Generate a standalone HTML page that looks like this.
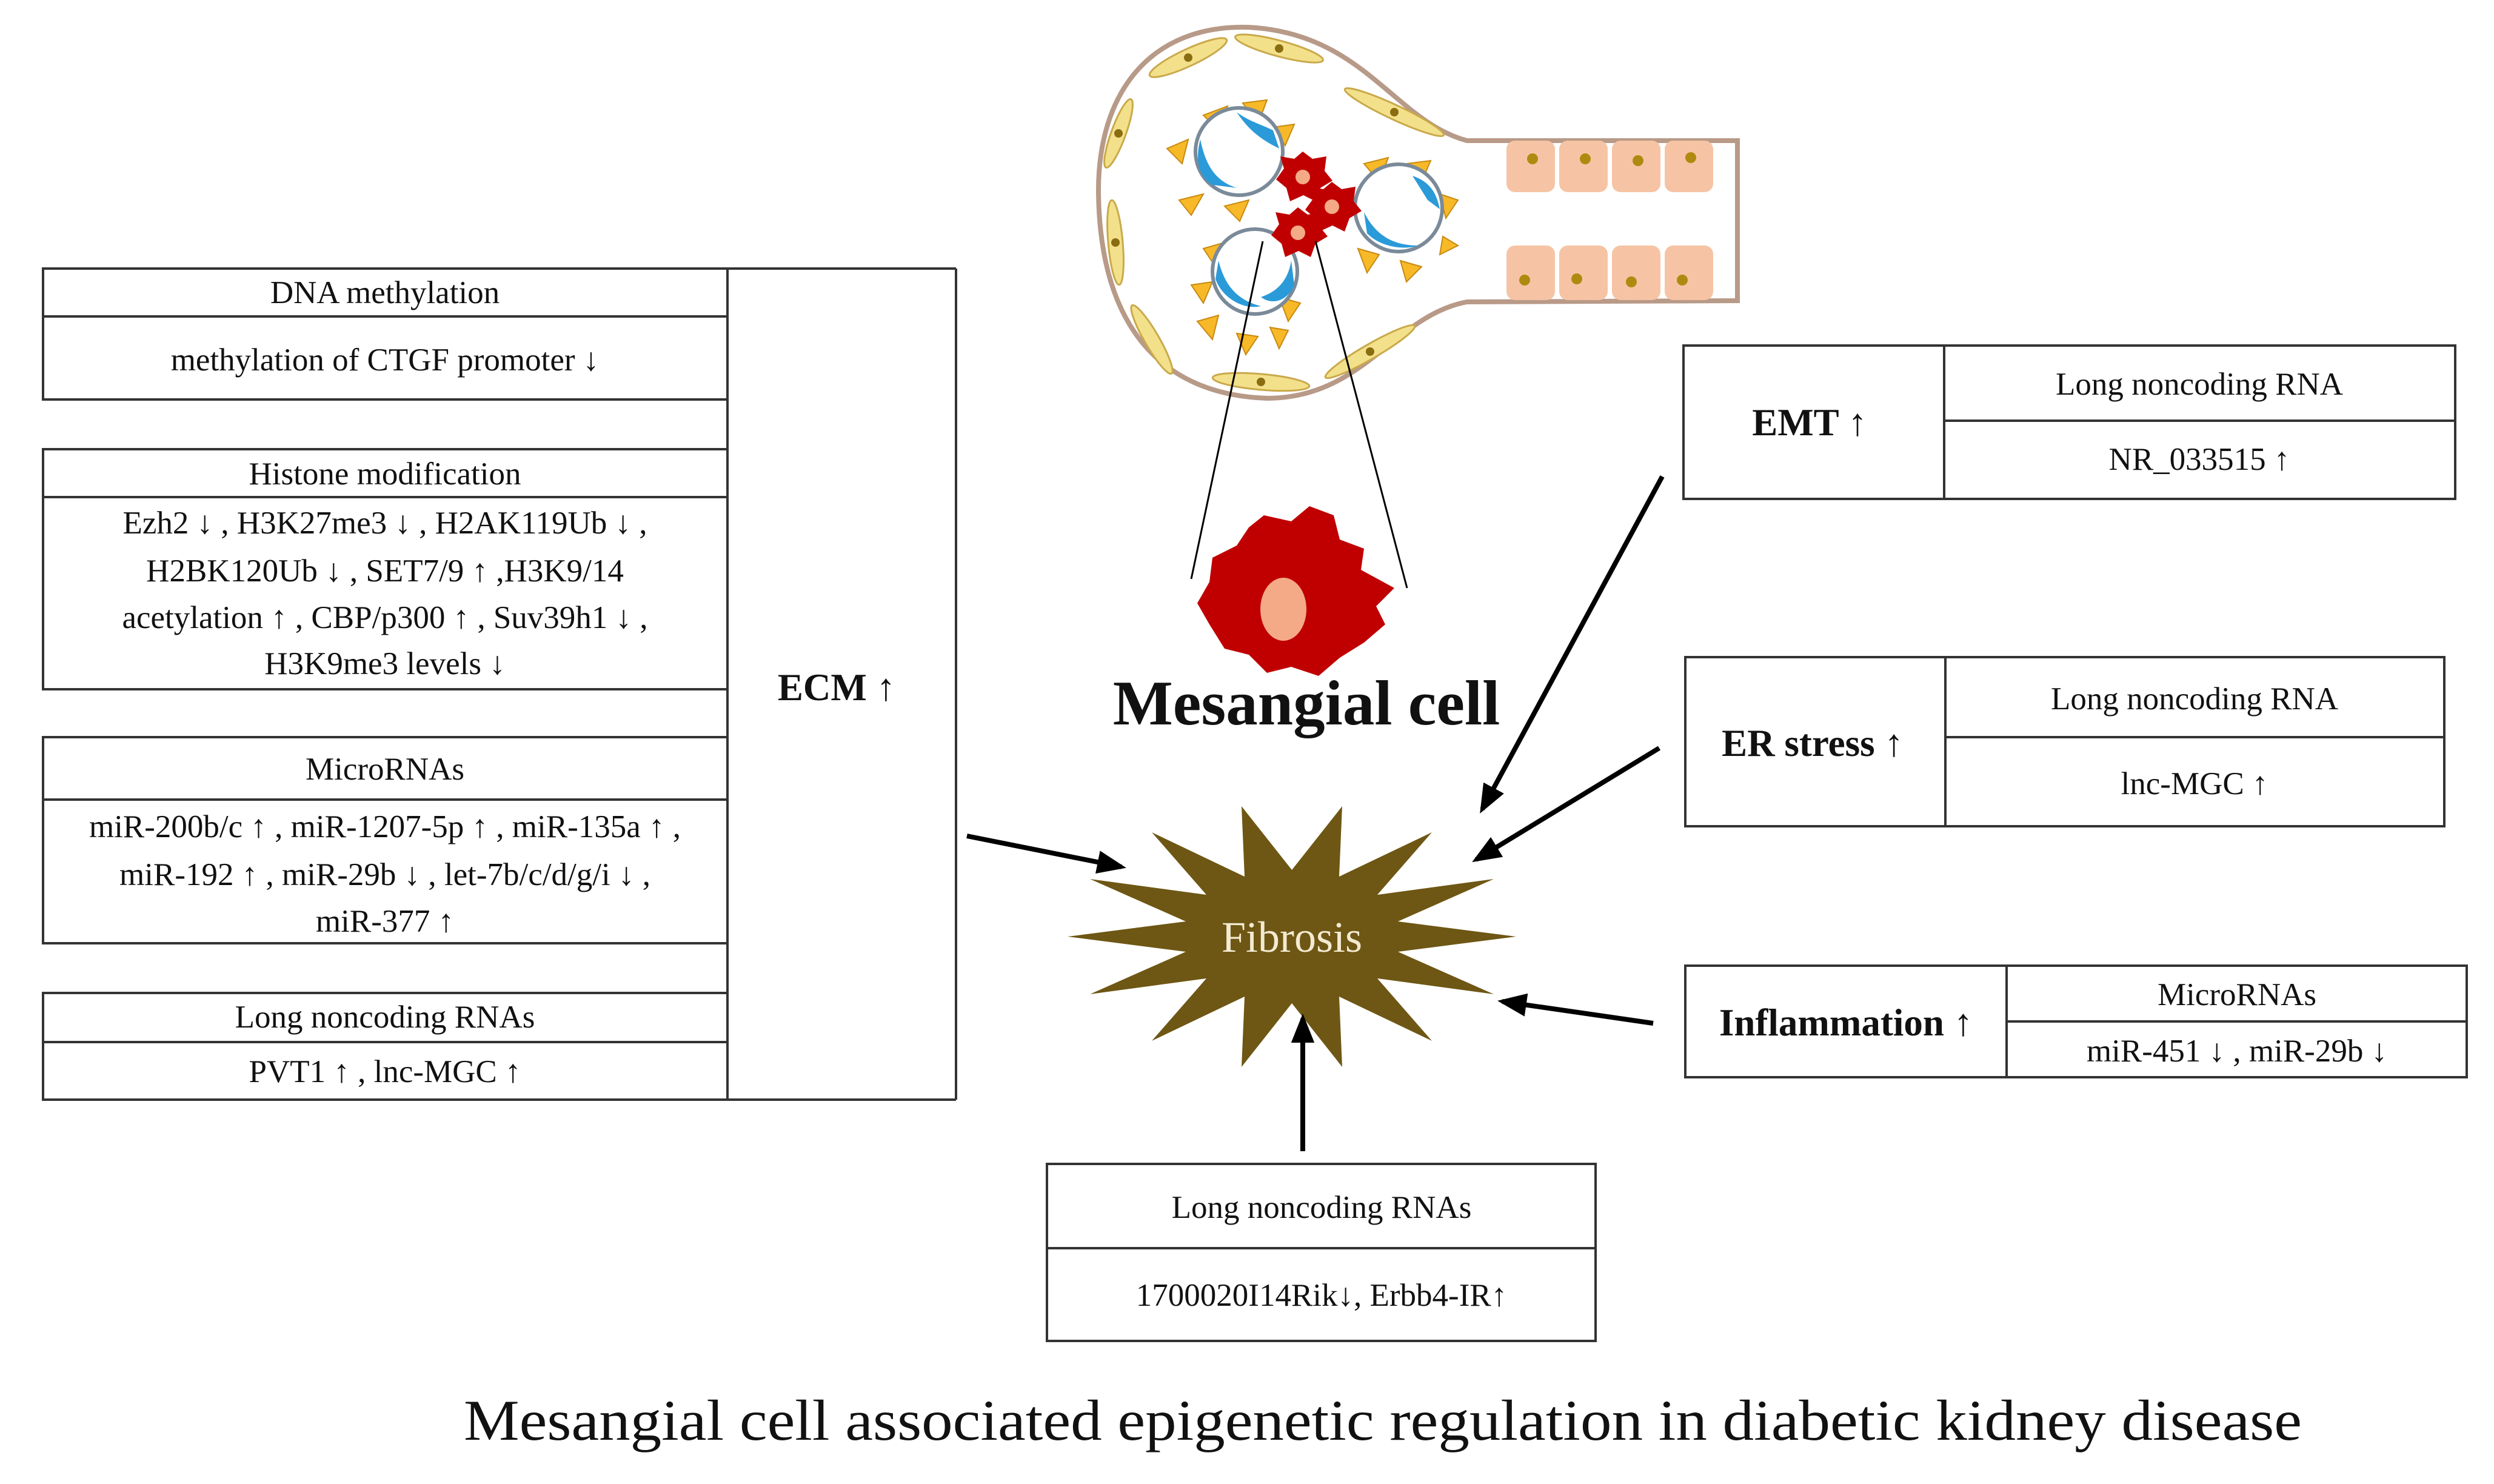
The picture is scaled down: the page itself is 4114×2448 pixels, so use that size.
<!DOCTYPE html>
<html><head><meta charset="utf-8"><style>
html,body{margin:0;padding:0;background:#fff}
svg{display:block}
text{font-family:"Liberation Serif",serif;fill:#111}
</style></head><body>
<svg width="4114" height="2448" viewBox="0 0 4114 2448" xmlns="http://www.w3.org/2000/svg">
<defs>
<marker id="ah" markerWidth="6" markerHeight="6" refX="5" refY="3" orient="auto" markerUnits="strokeWidth">
<path d="M0,0.6 L6,3 L0,5.4 Z" fill="#000"/>
</marker>
</defs>
<rect width="4114" height="2448" fill="#fff"/>

<!-- Glomerulus -->
<path d="M2866,232 L2420,232 C2300,200 2250,55 2060,45 C1900,40 1810,150 1812,320 C1815,520 1900,650 2090,657 C2250,657 2300,520 2420,498 L2866,496 Z" fill="#fff" stroke="#b89a88" stroke-width="8"/>
<g fill="#f3e08a" stroke="#c9a94a" stroke-width="3">
<ellipse cx="1960" cy="95" rx="70" ry="14" transform="rotate(-25 1960 95)"/>
<ellipse cx="2110" cy="80" rx="75" ry="13" transform="rotate(15 2110 80)"/>
<ellipse cx="1845" cy="220" rx="60" ry="12" transform="rotate(-70 1845 220)"/>
<ellipse cx="1840" cy="400" rx="70" ry="12" transform="rotate(85 1840 400)"/>
<ellipse cx="1900" cy="560" rx="65" ry="12" transform="rotate(60 1900 560)"/>
<ellipse cx="2080" cy="630" rx="80" ry="13" transform="rotate(5 2080 630)"/>
<ellipse cx="2260" cy="580" rx="85" ry="12" transform="rotate(-30 2260 580)"/>
<ellipse cx="2300" cy="185" rx="90" ry="12" transform="rotate(25 2300 185)"/>
</g>
<g fill="#8a6d10">
<circle cx="1960" cy="95" r="7"/><circle cx="2110" cy="80" r="7"/><circle cx="1845" cy="220" r="7"/><circle cx="1840" cy="400" r="7"/><circle cx="2080" cy="630" r="7"/><circle cx="2260" cy="580" r="7"/><circle cx="2300" cy="185" r="7"/>
</g>
<g fill="#f7b928" stroke="#c88a10" stroke-width="2">
<polygon points="1985,190 2025,175 2010,215"/><polygon points="2050,170 2090,165 2075,205"/>
<polygon points="1925,245 1960,230 1950,270"/><polygon points="1945,330 1985,320 1965,355"/>
<polygon points="2100,210 2135,205 2120,240"/><polygon points="2020,340 2060,330 2045,365"/>
<polygon points="2250,270 2290,260 2275,300"/><polygon points="2320,270 2360,265 2345,300"/>
<polygon points="2375,320 2405,330 2385,360"/><polygon points="2380,390 2405,405 2375,420"/>
<polygon points="2240,410 2275,420 2255,450"/><polygon points="2310,430 2345,440 2320,465"/>
<polygon points="1985,410 2020,400 2005,440"/><polygon points="1965,470 2000,465 1985,500"/>
<polygon points="1975,530 2010,520 2000,560"/><polygon points="2110,490 2145,500 2125,530"/>
<polygon points="2040,550 2075,555 2055,585"/><polygon points="2095,540 2125,545 2110,575"/>
</g>
<g stroke="#7a8a99" stroke-width="6" fill="#fff">
<circle cx="2044" cy="250" r="72"/><circle cx="2307" cy="343" r="72"/><circle cx="2070" cy="448" r="70"/>
</g>
<g fill="#2b9ad8">
<path d="M1980,230 C1990,280 2010,300 2040,310 L2000,305 C1975,290 1972,260 1980,230Z"/>
<path d="M2040,185 C2060,200 2080,205 2100,215 L2110,245 C2080,230 2060,215 2040,185Z"/>
<path d="M2250,350 C2270,390 2300,405 2340,405 C2320,412 2280,410 2255,385Z"/>
<path d="M2330,290 C2360,300 2370,320 2375,345 L2355,330Z"/>
<path d="M2010,430 C2020,470 2040,495 2080,505 C2050,512 2015,490 2005,460Z"/>
<path d="M2080,490 C2110,480 2125,460 2130,430 L2135,470 C2125,495 2100,505 2080,490Z"/>
</g>
<g fill="#c00000">
<polygon points="2149,250 2165,262 2188,258 2185,282 2198,298 2178,310 2170,332 2150,322 2128,332 2122,310 2105,296 2118,278 2112,258 2135,262"/>
<polygon points="2197,300 2213,312 2236,308 2233,332 2246,348 2226,360 2218,382 2198,372 2176,382 2170,360 2153,346 2166,328 2160,308 2183,312"/>
<polygon points="2141,342 2157,354 2180,350 2177,374 2190,390 2170,402 2162,424 2142,414 2120,424 2114,402 2097,388 2110,370 2104,350 2127,354"/>
</g>
<g fill="#f4a987"><circle cx="2149" cy="292" r="12"/><circle cx="2197" cy="341" r="12"/><circle cx="2141" cy="384" r="12"/></g>
<g fill="#f6c4a4">
<rect x="2485" y="232" width="80" height="85" rx="14"/><rect x="2572" y="232" width="80" height="85" rx="14"/><rect x="2659" y="232" width="80" height="85" rx="14"/><rect x="2746" y="232" width="80" height="85" rx="14"/>
<rect x="2485" y="405" width="80" height="90" rx="14"/><rect x="2572" y="405" width="80" height="90" rx="14"/><rect x="2659" y="405" width="80" height="90" rx="14"/><rect x="2746" y="405" width="80" height="90" rx="14"/>
</g>
<g fill="#b08a10">
<circle cx="2528" cy="262" r="9"/><circle cx="2615" cy="262" r="9"/><circle cx="2702" cy="265" r="9"/><circle cx="2789" cy="260" r="9"/>
<circle cx="2515" cy="462" r="9"/><circle cx="2601" cy="460" r="9"/><circle cx="2691" cy="465" r="9"/><circle cx="2775" cy="462" r="9"/>
</g>

<!-- zoom lines -->
<line x1="2083" y1="398" x2="1965" y2="955" stroke="#000" stroke-width="3"/>
<line x1="2170" y1="398" x2="2321" y2="970" stroke="#000" stroke-width="3"/>

<!-- big mesangial cell -->
<polygon points="2085,850 2130,860 2160,835 2200,850 2210,890 2250,905 2245,940 2300,970 2270,1000 2285,1030 2250,1060 2210,1085 2175,1115 2130,1100 2090,1110 2060,1080 2020,1070 1995,1030 1975,995 1995,960 2000,920 2040,900 2060,870" fill="#c00000"/>
<ellipse cx="2117" cy="1005" rx="38" ry="52" fill="#f4a987"/>
<text x="2155" y="1195" font-size="105" font-weight="bold" text-anchor="middle">Mesangial cell</text>

<!-- Left big box -->
<g stroke="#333" stroke-width="4" fill="none">
<line x1="71" y1="443" x2="1577" y2="443"/>
<line x1="71" y1="1814" x2="1577" y2="1814"/>
<line x1="1577" y1="443" x2="1577" y2="1814"/>
<line x1="1200" y1="443" x2="1200" y2="1814"/>
<rect x="71" y="443" width="1129" height="216"/><line x1="71" y1="522" x2="1200" y2="522"/>
<rect x="71" y="741" width="1129" height="396"/><line x1="71" y1="820" x2="1200" y2="820"/>
<rect x="71" y="1216" width="1129" height="340"/><line x1="71" y1="1319" x2="1200" y2="1319"/>
<rect x="71" y="1638" width="1129" height="176"/><line x1="71" y1="1719" x2="1200" y2="1719"/>
</g>
<g font-size="53" text-anchor="middle">
<text x="635" y="500">DNA methylation</text>
<text x="635" y="611">methylation  of CTGF promoter ↓</text>
<text x="635" y="799">Histone modification</text>
<text x="635" y="880">Ezh2 ↓ , H3K27me3 ↓ , H2AK119Ub ↓ ,</text>
<text x="635" y="959">H2BK120Ub ↓ , SET7/9 ↑ ,H3K9/14</text>
<text x="635" y="1036">acetylation ↑ , CBP/p300 ↑ , Suv39h1 ↓ ,</text>
<text x="635" y="1112">H3K9me3  levels ↓</text>
<text x="635" y="1286">MicroRNAs</text>
<text x="635" y="1381">miR-200b/c ↑ , miR-1207-5p ↑ , miR-135a ↑ ,</text>
<text x="635" y="1460">miR-192 ↑ , miR-29b ↓ ,  let-7b/c/d/g/i ↓ ,</text>
<text x="635" y="1537">miR-377 ↑</text>
<text x="635" y="1695">Long noncoding RNAs</text>
<text x="635" y="1785">PVT1 ↑ , lnc-MGC ↑</text>
</g>
<text x="1380" y="1155" font-size="63" font-weight="bold" text-anchor="middle">ECM ↑</text>

<!-- Right boxes -->
<g stroke="#333" stroke-width="4" fill="none">
<rect x="2777" y="570" width="1273" height="253"/><line x1="3207" y1="570" x2="3207" y2="823"/><line x1="3207" y1="694" x2="4050" y2="694"/>
<rect x="2780" y="1084" width="1252" height="279"/><line x1="3209" y1="1084" x2="3209" y2="1363"/><line x1="3209" y1="1216" x2="4032" y2="1216"/>
<rect x="2780" y="1593" width="1289" height="184"/><line x1="3310" y1="1593" x2="3310" y2="1777"/><line x1="3310" y1="1685" x2="4069" y2="1685"/>
<rect x="1727" y="1920" width="905" height="292"/><line x1="1727" y1="2059" x2="2632" y2="2059"/>
</g>
<g font-size="63" font-weight="bold" text-anchor="middle">
<text x="2985" y="718">EMT ↑</text>
<text x="2990" y="1247">ER stress ↑</text>
<text x="3045" y="1708">Inflammation ↑</text>
</g>
<g font-size="53" text-anchor="middle">
<text x="3628" y="651">Long noncoding RNA</text>
<text x="3628" y="775">NR_033515 ↑</text>
<text x="3620" y="1170">Long noncoding RNA</text>
<text x="3620" y="1310">lnc-MGC ↑</text>
<text x="3690" y="1658">MicroRNAs</text>
<text x="3690" y="1751">miR-451 ↓ , miR-29b ↓</text>
<text x="2180" y="2009">Long noncoding RNAs</text>
<text x="2180" y="2154">1700020I14Rik↓,  Erbb4-IR↑</text>
</g>

<!-- Fibrosis -->
<polygon fill="#6e5714" points="2501,1545 2306,1570 2464,1640 2272,1614 2362,1717 2209,1644 2214,1760 2131,1655 2048,1760 2053,1644 1900,1717 1990,1614 1798,1640 1956,1570 1761,1545 1956,1520 1798,1450 1990,1476 1900,1373 2053,1446 2048,1330 2131,1435 2214,1330 2209,1446 2362,1373 2272,1476 2464,1450 2306,1520"/>
<text x="2131" y="1570" font-size="72" text-anchor="middle" style="fill:#f3ead2">Fibrosis</text>

<!-- arrows -->
<g stroke="#000" stroke-width="8" marker-end="url(#ah)">
<line x1="1595" y1="1379" x2="1850" y2="1430"/>
<line x1="2742" y1="786" x2="2445" y2="1335"/>
<line x1="2737" y1="1234" x2="2435" y2="1418"/>
<line x1="2727" y1="1688" x2="2478" y2="1652"/>
<line x1="2149" y1="1899" x2="2149" y2="1680"/>
</g>

<text x="765" y="2375" font-size="95" textLength="3032" lengthAdjust="spacingAndGlyphs">Mesangial  cell associated epigenetic regulation in diabetic kidney disease</text>
</svg>
</body></html>
